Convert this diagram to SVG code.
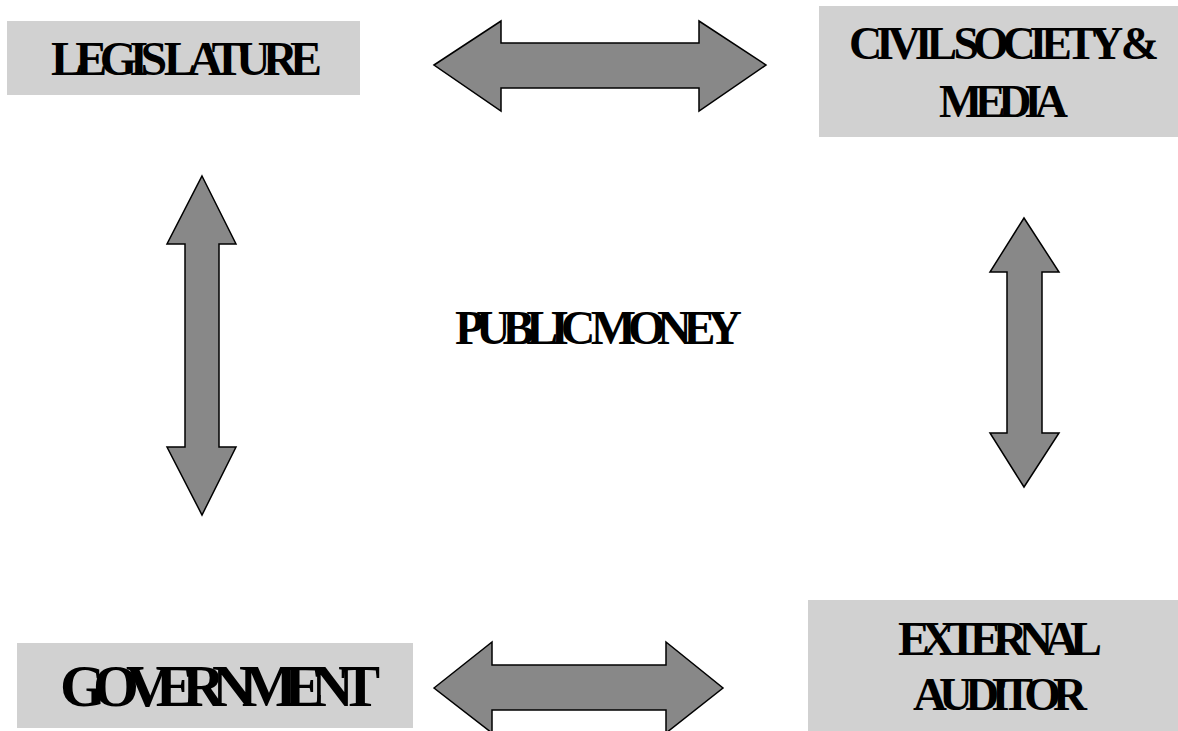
<svg xmlns="http://www.w3.org/2000/svg" width="1178" height="731" viewBox="0 0 1178 731">
<style>
.box{fill:#d1d1d1;stroke:none}
.lbl{font-family:"Liberation Serif","Times New Roman",serif;font-weight:bold;fill:#000;text-anchor:start}
.arr{fill:#888888;stroke:#000;stroke-width:1.5;stroke-linejoin:miter}
</style>
<rect width="1178" height="731" fill="#fff"/>
<g id="legislature">
<rect class="box" x="7" y="21" width="353" height="74"/>
<text class="lbl" x="51" y="75" font-size="48" textLength="271" lengthAdjust="spacing">LEGIS LATURE</text>
</g>
<g id="civil-society">
<rect class="box" x="819" y="6" width="359" height="131"/>
<text class="lbl" x="849" y="59" font-size="46" textLength="310" lengthAdjust="spacing">CIVIL SOCIETY &amp;</text>
<text class="lbl" x="939" y="117" font-size="46" textLength="129" lengthAdjust="spacing">MEDIA</text>
</g>
<g id="public-money">
<text class="lbl" x="455" y="344" font-size="48" textLength="287" lengthAdjust="spacing">PUBLIC MONEY</text>
</g>
<g id="government">
<rect class="box" x="17" y="643" width="396" height="85"/>
<text class="lbl" x="60" y="706" font-size="59" textLength="320" lengthAdjust="spacing">GOVERNMENT</text>
</g>
<g id="external-auditor">
<rect class="box" x="808" y="600" width="370" height="131"/>
<text class="lbl" x="898" y="655" font-size="48" textLength="204" lengthAdjust="spacing">EXTERNAL</text>
<text class="lbl" x="913" y="710" font-size="47" textLength="174" lengthAdjust="spacing">AUDITOR</text>
</g>
<g id="connectors">
<polygon class="arr" points="434,65 501,21 501,43 699,43 699,21 766,65 699,111 699,88 501,88 501,111"/>
<polygon class="arr" points="202,176 236,244 219,244 219,447 236,447 202,515 167,447 185,447 185,244 167,244"/>
<polygon class="arr" points="1024,218 1059,272 1042,272 1042,433 1059,433 1024,487 990,433 1007,433 1007,272 990,272"/>
<polygon class="arr" points="434,688 492,642 492,665 666,665 666,642 723,688 666,733 666,710 492,710 492,733"/>
</g>
</svg>
